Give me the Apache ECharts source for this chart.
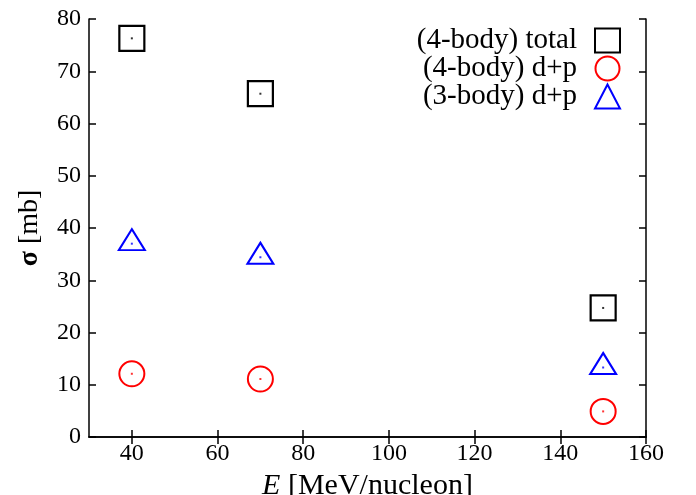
<!DOCTYPE html>
<html>
<head>
<meta charset="utf-8">
<script src="https://cdn.jsdelivr.net/npm/echarts@6/dist/echarts.min.js"></script>
<style>html,body{margin:0;padding:0;background:#fff}#c{width:696px;height:495px}</style>
</head>
<body>
<div id="c"></div>
<script>
const energies = [40, 70, 150];
const total4 = [76.3, 65.7, 24.7];
const dp4 = [12.1, 11.1, 4.9];
const dp3 = [37.0, 34.4, 13.3];
const seriesNames = ['(4-body) total', '(4-body) d+p', '(3-body) d+p'];
const xTicks = [40, 60, 80, 100, 120, 140, 160];
const yTicks = [0, 10, 20, 30, 40, 50, 60, 70, 80];

const FONT = 'Liberation Serif';
const pts = v => energies.map((e, i) => [e, v[i]]);

const chart = echarts.init(document.getElementById('c'), null, {renderer: 'canvas'});
const axLine = {show: true, lineStyle: {color: '#000', width: 1.5}};
const tick = {show: true, inside: true, length: 7, lineStyle: {color: '#000', width: 1.5}};

chart.setOption({
  animation: false,
  backgroundColor: '#fff',
  grid: {left: 89, right: 50, top: 19, bottom: 58, containLabel: false, outerBoundsMode: 'none'},
  legend: {
    orient: 'vertical', align: 'right', right: 75, top: 26, padding: 0,
    itemWidth: 25, itemHeight: 24, itemGap: -1,
    data: seriesNames,
    textStyle: {fontFamily: FONT, fontSize: 29, color: '#000', padding: [0, 13, 0, 0]}
  },
  xAxis: [{
    type: 'value', min: 30, max: 160, position: 'bottom',
    name: '{i|E} [MeV/nucleon]', nameLocation: 'middle', nameGap: 32,
    nameTextStyle: {fontFamily: FONT, fontSize: 30, color: '#000',
      rich: {i: {fontFamily: FONT, fontSize: 30, fontStyle: 'italic', color: '#000'}}},
    axisLine: axLine, splitLine: {show: false},
    axisTick: Object.assign({}, tick, {customValues: xTicks}),
    axisLabel: {customValues: xTicks, fontFamily: FONT, fontSize: 24, color: '#000', margin: 5}
  }, {
    type: 'value', min: 30, max: 160, position: 'top',
    axisLine: axLine, splitLine: {show: false},
    axisTick: Object.assign({}, tick, {customValues: xTicks}),
    axisLabel: {show: false}
  }],
  yAxis: [{
    type: 'value', min: 0, max: 80, interval: 10, position: 'left',
    name: '{b|σ} [mb]', nameLocation: 'middle', nameGap: 45, nameRotate: 90,
    nameTextStyle: {fontFamily: FONT, fontSize: 28, color: '#000',
      rich: {b: {fontFamily: FONT, fontSize: 28, fontWeight: 'bold', color: '#000'}}},
    axisLine: axLine, splitLine: {show: false},
    axisTick: tick,
    axisLabel: {customValues: yTicks, fontFamily: FONT, fontSize: 24, color: '#000', margin: 8}
  }, {
    type: 'value', min: 0, max: 80, interval: 10, position: 'right',
    axisLine: axLine, splitLine: {show: false},
    axisTick: tick, axisLabel: {show: false}
  }],
  series: [
    {name: seriesNames[0], type: 'scatter', data: pts(total4), symbol: 'rect', symbolSize: 25,
     itemStyle: {color: '#fff', borderColor: '#000', borderWidth: 2.2, opacity: 1}, z: 3},
    {name: seriesNames[1], type: 'scatter', data: pts(dp4), symbol: 'circle', symbolSize: 25,
     itemStyle: {color: '#fff', borderColor: '#ff0000', borderWidth: 2, opacity: 1}, z: 3},
    {name: seriesNames[2], type: 'scatter', data: pts(dp3), symbol: 'triangle', symbolSize: [26, 21],
     symbolOffset: [0, -4],
     itemStyle: {color: '#fff', borderColor: '#0000ff', borderWidth: 2, opacity: 1}, z: 3},
    {name: 'dot0', type: 'scatter', data: pts(total4), symbol: 'rect', symbolSize: 2,
     itemStyle: {color: '#000'}, z: 4, silent: true},
    {name: 'dot1', type: 'scatter', data: pts(dp4), symbol: 'rect', symbolSize: 2,
     itemStyle: {color: '#ff0000'}, z: 4, silent: true},
    {name: 'dot2', type: 'scatter', data: pts(dp3), symbol: 'rect', symbolSize: 2,
     itemStyle: {color: '#0000ff'}, z: 4, silent: true}
  ]
});
</script>
</body>
</html>
